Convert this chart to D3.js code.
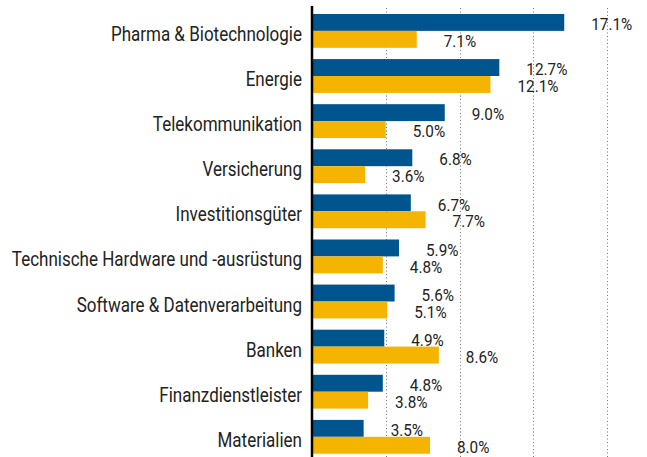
<!DOCTYPE html>
<html>
<head>
<meta charset="utf-8">
<script src="https://cdn.jsdelivr.net/npm/d3@7"></script>
<style>
  body { margin: 0; background: #fff; }
  svg { display: block; }
  .cat { font-family: Roboto, "DejaVu Sans Condensed", sans-serif; font-size: 21px; fill: #222; }
  .val { font-family: Roboto, "DejaVu Sans Condensed", sans-serif; font-size: 17px; fill: #222; }
</style>
</head>
<body>
<svg id="chart" width="647" height="457"></svg>
<script>
// data
const categories = [
  'Pharma & Biotechnologie',
  'Energie',
  'Telekommunikation',
  'Versicherung',
  'Investitionsgüter',
  'Technische Hardware und -ausrüstung',
  'Software & Datenverarbeitung',
  'Banken',
  'Finanzdienstleister',
  'Materialien'
]
const seriesA = [17.1, 12.7, 9.0, 6.8, 6.7, 5.9, 5.6, 4.9, 4.8, 3.5]
const seriesB = [7.1, 12.1, 5.0, 3.6, 7.7, 4.8, 5.1, 8.6, 3.8, 8.0]
const gridTicks = [5, 10, 15, 20]

const width = 647
const height = 457
const x0 = 312
const colors = { a: '#00558f', b: '#f5b400' }
// the original uses a condensed face; squeeze Roboto horizontally
const catSqueeze = 0.81
const valSqueeze = 0.9

const svg = d3.select('#chart')

const x = d3.scaleLinear()
    .domain([0, 20])
    .range([x0, x0 + 295])

const y = d3.scaleBand()
    .domain(categories)
    .range([2.7, 465])
    .paddingInner(0.25)
    .paddingOuter(0.25)

const ySub = d3.scaleBand()
    .domain(['a', 'b'])
    .range([0, y.bandwidth()])

// dotted grid
svg.append('g')
  .selectAll('line')
  .data(gridTicks)
  .join('line')
    .attr('x1', d => Math.round(x(d)) + 0.5)
    .attr('x2', d => Math.round(x(d)) + 0.5)
    .attr('y1', 8)
    .attr('y2', height)
    .attr('stroke', '#777')
    .attr('stroke-width', 1)
    .attr('stroke-dasharray', '1,2.5')

const rows = categories.map((c, i) => ({ cat: c, a: seriesA[i], b: seriesB[i] }))

const group = svg.append('g')
  .selectAll('g')
  .data(rows)
  .join('g')
    .attr('transform', d => `translate(0,${y(d.cat)})`)

group.selectAll('rect')
  .data(d => [{ key: 'a', v: d.a }, { key: 'b', v: d.b }])
  .join('rect')
    .attr('x', x(0))
    .attr('y', d => ySub(d.key))
    .attr('width', d => x(d.v) - x(0))
    .attr('height', ySub.bandwidth())
    .attr('fill', d => colors[d.key])

group.selectAll('text.val')
  .data(d => [{ key: 'a', v: d.a }, { key: 'b', v: d.b }])
  .join('text')
    .attr('class', 'val')
    .attr('transform', d => `translate(${x(d.v) + 27},${ySub(d.key) + ySub.bandwidth() / 2 + 7.7}) scale(${valSqueeze},1)`)
    .text(d => d.v.toFixed(1) + '%')

// category labels
svg.append('g')
  .selectAll('text')
  .data(categories)
  .join('text')
    .attr('class', 'cat')
    .attr('text-anchor', 'end')
    .attr('transform', d => `translate(302,${y(d) + y.bandwidth() / 2 + 10})  scale(${catSqueeze},1)`)
    .text(d => d)

// axis line
svg.append('line')
    .attr('x1', x0)
    .attr('x2', x0)
    .attr('y1', 6)
    .attr('y2', height)
    .attr('stroke', '#000')
    .attr('stroke-width', 2.5)
</script>
</body>
</html>
